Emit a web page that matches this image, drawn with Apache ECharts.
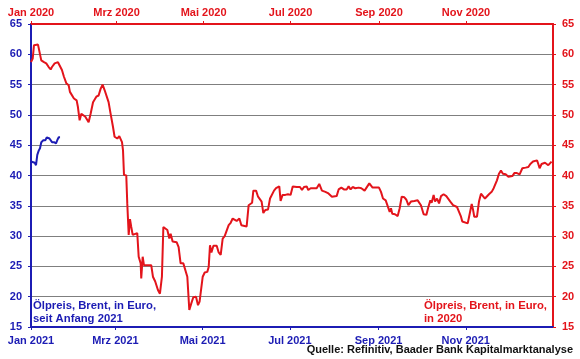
<!DOCTYPE html>
<html>
<head>
<meta charset="utf-8">
<script src="https://cdn.jsdelivr.net/npm/echarts@6/dist/echarts.min.js"></script>
<style>
  html, body { margin: 0; padding: 0; background: #fff; }
  #chart { width: 580px; height: 359px; }
</style>
</head>
<body>
<div id="chart"></div>
<script>
// ---- Data (day of year, value in EUR) ----
const days2020 = [0.0,1.2,2.1,4.9,6.3,7.2,9.1,10.7,12.4,13.8,14.7,16.6,18.9,20.3,21.7,23.1,24.8,26.4,27.3,28.7,30.1,32.0,32.9,34.1,35.3,36.7,38.1,39.5,40.4,41.8,43.5,45.8,47.4,48.8,50.2,51.6,53.0,54.4,55.8,57.5,58.6,60.5,61.9,63.8,64.5,65.2,66.8,67.5,68.5,69.4,70.3,71.3,72.2,74.5,75.5,76.9,77.3,78.3,79.2,82.0,84.3,85.5,87.1,89.0,90.4,91.8,92.8,94.2,95.6,97.0,97.9,99.3,102.1,103.5,104.9,106.8,108.2,109.6,111.0,112.4,113.8,115.7,117.1,118.2,120.4,121.8,123.6,124.6,125.5,126.5,127.9,130.2,131.6,133.0,134.4,135.8,137.2,138.6,140.0,141.4,142.8,144.2,146.1,147.5,148.9,151.2,152.6,153.5,155.0,155.9,157.8,159.2,160.6,161.7,162.9,164.3,166.2,167.6,169.0,170.4,171.8,173.2,174.1,175.0,176.4,178.3,180.2,181.1,182.0,183.5,186.3,188.6,190.0,191.4,193.3,194.4,196.1,198.0,200.3,202.1,204.0,206.4,208.2,209.6,211.0,214.3,215.7,217.6,219.4,221.3,222.7,224.1,225.5,227.4,229.7,231.6,233.9,235.3,237.2,239.5,242.3,244.0,245.4,246.8,248.7,250.1,251.5,252.4,253.3,255.2,257.1,258.5,259.9,261.8,263.2,264.6,266.4,268.8,271.1,272.0,273.4,275.3,277.2,278.6,280.0,280.9,282.3,283.3,284.7,286.1,287.5,289.3,291.2,292.6,294.0,294.9,295.9,297.3,298.7,299.6,300.5,301.5,302.4,303.8,306.2,307.6,309.0,309.9,310.8,312.7,314.1,315.5,316.9,318.3,319.7,321.1,323.0,324.4,325.8,326.7,328.1,329.5,330.9,332.8,334.7,336.1,337.5,338.9,340.7,342.6,344.5,346.8,348.7,350.1,352.0,353.3,354.8,355.7,356.6,358.0,360.4,361.8,362.7,364.1,365.0];
const brent2020 = [58.7,59.3,61.5,61.6,61.5,59.0,58.7,58.5,57.9,57.5,57.9,58.5,58.7,58.7,57.4,56.3,55.2,54.9,53.8,54.1,52.7,52.4,51.3,49.1,50.2,49.9,49.7,49.8,48.8,50.2,52.1,53.0,53.2,54.3,55.0,54.1,54.0,52.1,50.2,48.0,46.4,46.1,46.5,45.5,44.2,40.1,40.0,35.4,30.2,32.8,31.5,30.2,30.5,30.5,26.6,25.5,23.0,26.6,25.2,25.2,25.2,23.3,22.5,21.1,20.5,23.3,31.5,31.5,31.0,29.6,30.4,29.1,29.0,28.2,25.5,25.5,25.2,23.3,17.8,18.9,19.9,20.0,18.6,19.2,23.3,24.0,24.1,24.9,28.5,27.3,28.4,28.4,27.3,26.9,29.6,30.0,30.2,31.8,32.2,32.9,32.6,32.5,32.9,31.8,31.6,31.6,35.1,35.4,35.5,37.5,37.5,36.5,36.8,35.7,33.8,34.3,34.4,36.2,36.5,37.5,37.9,38.1,38.2,35.8,36.8,36.8,36.9,37.1,36.8,38.2,38.1,38.1,37.6,38.1,38.2,37.6,37.9,37.9,37.9,38.6,37.5,37.3,37.1,36.8,36.5,36.6,37.7,38.0,37.7,37.7,38.2,37.7,38.1,37.9,38.0,37.9,37.5,37.6,38.7,38.0,38.0,38.0,37.3,36.2,35.9,35.7,34.0,34.6,33.7,33.6,33.3,34.6,36.5,36.4,36.0,35.1,35.7,35.8,35.9,36.0,35.1,33.6,33.5,34.8,35.9,35.5,36.8,35.7,36.2,35.4,36.6,36.9,36.6,36.5,35.7,35.9,35.1,35.4,34.8,34.3,34.6,33.2,32.4,32.1,32.1,33.7,35.3,34.4,33.2,33.2,35.7,37.0,36.8,36.2,36.2,36.9,37.3,37.9,38.1,39.2,40.3,40.8,40.3,40.2,39.8,39.5,39.9,40.4,40.4,40.2,41.2,41.3,41.4,41.9,42.3,42.6,42.5,41.9,41.2,41.9,42.1,42.0,41.7,41.9,42.3];

const days2021 = [0.0,1.2,2.6,3.5,4.4,5.4,6.3,7.2,8.6,10.0,11.0,12.0,12.9,13.8,14.7,16.1,17.5,18.5,19.4,20.3];
const brent2021 = [42.3,42.3,42.1,41.7,43.4,44.1,44.5,45.5,45.8,45.8,46.3,46.5,46.1,46.4,45.5,45.5,45.3,45.9,46.3,46.3];

// Axis ticks: day-of-year of month starts, with labels
const topTickDays = [0, 60, 121, 182, 244, 305];
const topTickLabels = ['Jan 2020', 'Mrz 2020', 'Mai 2020', 'Jul 2020', 'Sep 2020', 'Nov 2020'];
const bottomTickDays = [0, 59, 120, 181, 243, 304];
const bottomTickLabels = ['Jan 2021', 'Mrz 2021', 'Mai 2021', 'Jul 2021', 'Sep 2021', 'Nov 2021'];

const RED = '#e3141b';
const BLUE = '#1c1cb4';
const FONT = 'Liberation Sans, Arial, sans-serif';

const chart = echarts.init(document.getElementById('chart'), null, { renderer: 'canvas' });

function lookup(days, labels) {
  return function (v) {
    const i = days.findIndex(d => Math.abs(d - v) < 0.01);
    return i >= 0 ? labels[i] : '';
  };
}

const option = {
  animation: false,
  backgroundColor: '#fff',
  grid: { left: 31, right: 27, top: 24, bottom: 32, containLabel: false },
  xAxis: [
    {
      type: 'value', position: 'top', min: 0, max: 366,
      axisLine: { show: true, onZero: false, lineStyle: { color: RED, width: 2 } },
      axisTick: { show: true, length: 3, lineStyle: { color: RED, width: 1 }, customValues: topTickDays },
      axisLabel: { color: RED, fontFamily: FONT, fontWeight: 'bold', fontSize: 11, margin: 6,
                   customValues: topTickDays, formatter: lookup(topTickDays, topTickLabels), showMinLabel: true },
      splitLine: { show: false }
    },
    {
      type: 'value', position: 'bottom', min: 0, max: 365,
      axisLine: { show: true, onZero: false, lineStyle: { color: BLUE, width: 2 } },
      axisTick: { show: true, length: 3, lineStyle: { color: BLUE, width: 1 }, customValues: bottomTickDays },
      axisLabel: { color: BLUE, fontFamily: FONT, fontWeight: 'bold', fontSize: 11, margin: 8,
                   customValues: bottomTickDays, formatter: lookup(bottomTickDays, bottomTickLabels), showMinLabel: true },
      splitLine: { show: false }
    }
  ],
  yAxis: [
    {
      type: 'value', position: 'left', min: 15, max: 65, interval: 5,
      axisLine: { show: true, onZero: false, lineStyle: { color: BLUE, width: 2 } },
      axisTick: { show: true, length: 3, lineStyle: { color: BLUE } },
      axisLabel: { color: BLUE, fontFamily: FONT, fontWeight: 'bold', fontSize: 11, margin: 9 },
      splitLine: { show: true, lineStyle: { color: '#7f7f7f', width: 1 } }
    },
    {
      type: 'value', position: 'right', min: 15, max: 65, interval: 5,
      axisLine: { show: true, onZero: false, lineStyle: { color: RED, width: 2 } },
      axisTick: { show: true, length: 3, lineStyle: { color: RED } },
      axisLabel: { color: RED, fontFamily: FONT, fontWeight: 'bold', fontSize: 11, margin: 9 },
      splitLine: { show: false }
    }
  ],
  series: [
    {
      name: 'Ölpreis 2020', type: 'line', xAxisIndex: 0, yAxisIndex: 1,
      data: days2020.map((d, i) => [d, brent2020[i]]),
      showSymbol: false, symbol: 'none',
      lineStyle: { color: RED, width: 2 }, z: 3
    },
    {
      name: 'Ölpreis 2021', type: 'line', xAxisIndex: 1, yAxisIndex: 0,
      data: days2021.map((d, i) => [d, brent2021[i]]),
      showSymbol: false, symbol: 'none',
      lineStyle: { color: BLUE, width: 2 }, z: 4
    }
  ],
  graphic: [
    {
      type: 'text', left: 33, top: 300,
      style: { text: 'Ölpreis, Brent, in Euro,\nseit Anfang 2021', fill: BLUE,
               font: 'bold 11.3px Liberation Sans, Arial, sans-serif', lineHeight: 12.6, align: 'left' }
    },
    {
      type: 'text', right: 33, top: 300,
      style: { text: 'Ölpreis, Brent, in Euro,\nin 2020', fill: RED,
               font: 'bold 11.3px Liberation Sans, Arial, sans-serif', lineHeight: 12.6, align: 'right' }
    },
    {
      type: 'text', right: 7, top: 344,
      style: { text: 'Quelle: Refinitiv, Baader Bank Kapitalmarktanalyse', fill: '#111',
               font: 'bold 11px Liberation Sans, Arial, sans-serif' }
    }
  ]
};

chart.setOption(option);
</script>
</body>
</html>
